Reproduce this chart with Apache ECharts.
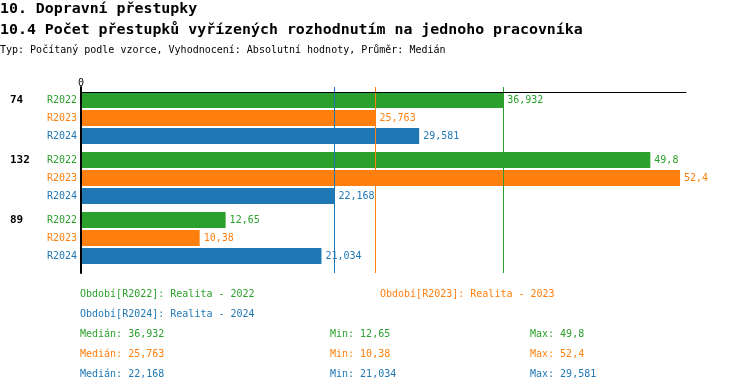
<!DOCTYPE html>
<html><head><meta charset="utf-8">
<script src="https://cdn.jsdelivr.net/npm/echarts@6/dist/echarts.min.js"></script>
<style>html,body{margin:0;padding:0;background:#fff}#c{width:750px;height:392px}</style>
</head><body><div id="c"></div>
<script>
// ---- data ----
const categories = ['74', '132', '89'];
const seriesNames = ['R2022', 'R2023', 'R2024'];
const legendNames = ['Období[R2022]: Realita - 2022', 'Období[R2023]: Realita - 2023', 'Období[R2024]: Realita - 2024'];
const r2022 = [36.932, 49.8, 12.65];
const r2023 = [25.763, 52.4, 10.38];
const r2024 = [29.581, 22.168, 21.034];
const xTicks = [0];
const titleMain = '10. Dopravní přestupky';
const titleSub = '10.4 Počet přestupků vyřízených rozhodnutím na jednoho pracovníka';
const titleInfo = 'Typ: Počítaný podle vzorce, Vyhodnocení: Absolutní hodnoty, Průměr: Medián';

// ---- styles ----
const colors = ['#2ca02c', '#ff7f0e', '#1f77b4'];
const MONO = '"DejaVu Sans Mono", "Liberation Mono", monospace';
const xMax = 52.92;
const allData = [r2022, r2023, r2024];
const legendPos = [[75, 287], [375, 287], [75, 307]];

function fmt(v) { return String(v).replace('.', ','); }
function median(arr) {
  const s = arr.slice().sort((a, b) => a - b);
  const m = Math.floor(s.length / 2);
  return s.length % 2 ? s[m] : (s[m - 1] + s[m]) / 2;
}
const stats = allData.map(d => ({ med: median(d), min: Math.min(...d), max: Math.max(...d) }));

const gridBase = { left: 81, width: 605, outerBoundsMode: 'none', containLabel: false };

const chart = echarts.init(document.getElementById('c'), null, { renderer: 'canvas' });

const series = [];
allData.forEach((d, i) => {
  series.push({
    type: 'bar', name: seriesNames[i], xAxisIndex: 0, yAxisIndex: 0,
    data: d, barWidth: 16, barGap: '12.5%',
    itemStyle: { color: colors[i] }, z: 2, silent: true,
    label: { show: true, position: 'right', distance: 4, color: colors[i],
      fontFamily: MONO, fontSize: 10, formatter: p => fmt(p.value) }
  });
});
allData.forEach((d, i) => {
  series.push({
    type: 'bar', name: 'lbl' + seriesNames[i], xAxisIndex: 3, yAxisIndex: 3,
    data: d, barWidth: 16, barGap: '12.5%',
    itemStyle: { color: 'rgba(0,0,0,0)' }, z: 1, silent: true,
    label: { show: true, position: 'left', distance: 4, color: colors[i],
      fontFamily: MONO, fontSize: 10, formatter: () => seriesNames[i] }
  });
});
series.push({
  type: 'line', name: 'medians', xAxisIndex: 2, yAxisIndex: 2, data: [], z: 5, silent: true,
  markLine: {
    silent: true, symbol: ['none', 'none'], label: { show: false },
    lineStyle: { type: 'solid', width: 1 },
    animation: false,
    data: stats.map((s, i) => ({ xAxis: s.med, lineStyle: { color: colors[i], type: 'solid', width: 1 } }))
  }
});

const graphics = [];
stats.forEach((s, i) => {
  const y = 334 + 20 * i;
  [['Medián: ' + fmt(s.med), 80], ['Min: ' + fmt(s.min), 330], ['Max: ' + fmt(s.max), 530]].forEach(([t, x]) => {
    graphics.push({ type: 'text', x: x, y: y, silent: true,
      style: { text: t, fill: colors[i], font: '10px ' + MONO, verticalAlign: 'middle', align: 'left' } });
  });
});

const legends = seriesNames.map((n, i) => ({
  left: legendPos[i][0], top: legendPos[i][1], orient: 'horizontal', padding: 0,
  itemWidth: 0, itemHeight: 14, itemGap: 0, icon: 'rect', selectedMode: false,
  data: [{ name: n, textStyle: { color: colors[i] } }],
  formatter: () => legendNames[i],
  textStyle: { fontFamily: MONO, fontSize: 10, color: colors[i] }
}));

chart.setOption({
  animation: false,
  backgroundColor: '#fff',
  color: colors,
  title: [
    { text: titleMain, left: 0, top: 1, padding: 0,
      textStyle: { fontFamily: MONO, fontSize: 14.9, fontWeight: 'bold', color: '#000', lineHeight: 17 } },
    { text: titleSub, left: 0, top: 22, padding: 0,
      textStyle: { fontFamily: MONO, fontSize: 14.9, fontWeight: 'bold', color: '#000', lineHeight: 17 } },
    { text: titleInfo, left: 0, top: 44, padding: 0,
      textStyle: { fontFamily: MONO, fontSize: 10, fontWeight: 'normal', color: '#000', lineHeight: 12 } }
  ],
  legend: legends,
  grid: [
    Object.assign({ top: 88, height: 180 }, gridBase),
    Object.assign({ top: 92, height: 180 }, gridBase),
    Object.assign({ top: 87, height: 186 }, gridBase),
    Object.assign({ top: 88, height: 180 }, gridBase)
  ],
  xAxis: [
    { gridIndex: 0, type: 'value', min: 0, max: xMax, show: false },
    { gridIndex: 1, type: 'value', min: 0, max: xMax, position: 'top', interval: 100, z: 10,
      axisLine: { show: true, onZero: false, lineStyle: { color: '#000', width: 1 } },
      axisTick: { show: false }, splitLine: { show: false },
      axisLabel: { show: true, margin: 4, color: '#000', fontFamily: MONO, fontSize: 10,
        showMaxLabel: false, formatter: v => (xTicks.indexOf(v) >= 0 ? String(v) : '') } },
    { gridIndex: 2, type: 'value', min: 0, max: xMax, show: false },
    { gridIndex: 3, type: 'value', min: 0, max: xMax, show: false }
  ],
  yAxis: [
    { gridIndex: 0, type: 'category', inverse: true, data: categories,
      axisLine: { show: false }, axisTick: { show: false }, splitLine: { show: false },
      axisLabel: { show: true, align: 'left', margin: 71, color: '#000', fontFamily: MONO,
        fontSize: 11, fontWeight: 'bold', lineHeight: 12,
        formatter: v => v + '\n \n \n ' } },
    { gridIndex: 1, type: 'value', min: 0, max: 1, show: false },
    { gridIndex: 2, type: 'value', min: 0, max: 1, z: 10,
      axisLine: { show: true, onZero: false, lineStyle: { color: '#000', width: 2 } },
      axisTick: { show: false }, axisLabel: { show: false }, splitLine: { show: false } },
    { gridIndex: 3, type: 'category', inverse: true, data: categories, show: false }
  ],
  series: series,
  graphic: graphics
});
</script></body></html>
